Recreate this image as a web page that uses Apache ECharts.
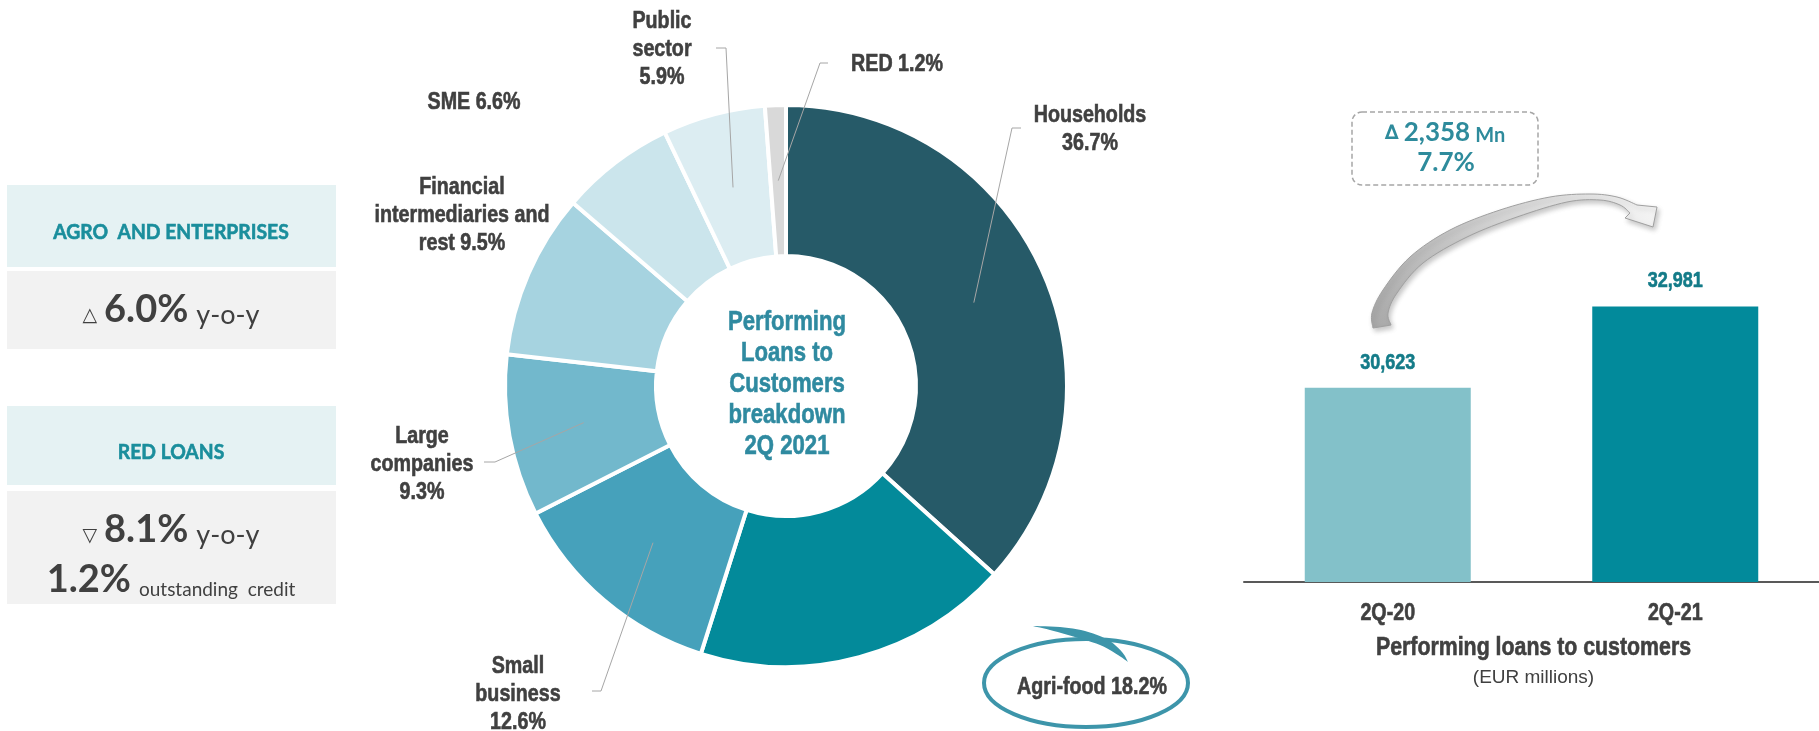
<!DOCTYPE html>
<html>
<head>
<meta charset="utf-8">
<title>Performing loans to customers</title>
<script src="https://cdn.jsdelivr.net/npm/echarts@6/dist/echarts.min.js"></script>
<style>
  html, body { margin: 0; padding: 0; background: #ffffff; }
  #chart { width: 1819px; height: 731px; }
</style>
</head>
<body>
<div id="chart"></div>
<script>
// ---- data ----
const sectors = ['Households', 'Agri-food', 'Small\nbusiness', 'Large\ncompanies',
  'Financial\nintermediaries and\nrest', 'SME', 'Public\nsector', 'RED'];
const sectorShares = [36.7, 18.2, 12.6, 9.3, 9.5, 6.6, 5.9, 1.2];
const periods = ['2Q-20', '2Q-21'];
const loans = [30623, 32981];
const agroGrowthYoY = 6.0;
const redLoansChangeYoY = 8.1;
const redShareOfCredit = 1.2;

// ---- styles & layout ----
const ARIAL = "'Liberation Sans',Arial,sans-serif";
const HUMANIST = "Lato,'Open Sans',sans-serif";
const NARROW_SCALE = 0.82;            // Arial Narrow is Arial squeezed to 82 %
const sectorColors = ['#265a68', '#038a9a', '#46a1bb', '#72b8cc', '#a6d3e0', '#cbe5ec', '#dcedf2', '#d9d9d9'];
const barColors = ['#83c1c9', '#028a9b'];
const valueOnNewLine = [true, false, true, true, false, false, true, false];
const pieCenter = [786, 386];
const pieRadius = [130, 281];
// centre of each sector label block
const labelAnchors = [[1090, 129], [1092, 687], [518, 694], [422, 464], [462, 215], [474, 102], [662, 49], [897, 64]];
// elbow + end of the leader line, or null when the label has none
const leaderTail = [
  [[1012, 128], [1021, 128]], null, [[601, 691], [592, 691]], [[495, 462], [484, 462]],
  null, null, [[726, 48], [716, 48]], [[820, 63], [828, 63]]
];

const TEAL_TXT = '#1a8e9c';
const DARK = '#404040';

// leader line start: middle of the ring at the sector's mid angle
const total = sectorShares.reduce((a, b) => a + b, 0);
const leaderStart = (() => {
  let cum = 0;
  const rMid = (pieRadius[0] + pieRadius[1]) / 2;
  return sectorShares.map(v => {
    const a = (cum + v / 2) / total * Math.PI * 2;
    cum += v;
    return [pieCenter[0] + rMid * Math.sin(a), pieCenter[1] - rMid * Math.cos(a)];
  });
})();

const fmt = n => n.toLocaleString('en-US');
const deltaMn = loans[1] - loans[0];
const deltaPct = (deltaMn / loans[0] * 100).toFixed(1);

// condensed bold text block centred on (x, y); a thin outline in the same
// colour restores the stem weight lost by the horizontal squeeze
function narrow(x, y, text, size, lineHeight, fill) {
  return {
    type: 'text', x, y, scaleX: NARROW_SCALE, silent: true, z: 100,
    style: { text, fontFamily: ARIAL, fontWeight: 'bold', fontSize: size, lineHeight,
      align: 'center', verticalAlign: 'middle', fill, stroke: fill, lineWidth: 0.6 }
  };
}

// rich-text token that keeps mixed font sizes on one baseline
function tok(size, big, extra) {
  return Object.assign({ fontSize: size, lineHeight: 2 * (0.2 * big + 0.3 * size), verticalAlign: 'bottom' }, extra);
}

// Catmull-Rom sampling for curved outlines
function smooth(pts, steps) {
  const out = [];
  for (let i = 0; i < pts.length - 1; i++) {
    const p0 = pts[Math.max(i - 1, 0)], p1 = pts[i], p2 = pts[i + 1], p3 = pts[Math.min(i + 2, pts.length - 1)];
    for (let s = 0; s < steps; s++) {
      const t = s / steps, t2 = t * t, t3 = t2 * t;
      const f = k => 0.5 * (2 * p1[k] + (-p0[k] + p2[k]) * t + (2 * p0[k] - 5 * p1[k] + 4 * p2[k] - p3[k]) * t2 + (-p0[k] + 3 * p1[k] - 3 * p2[k] + p3[k]) * t3);
      out.push([f(0), f(1)]);
    }
  }
  out.push(pts[pts.length - 1]);
  return out;
}
const arrowUpper = smooth([[1373, 328], [1372, 313], [1383, 290], [1410, 257], [1450, 230], [1500, 210], [1550, 197], [1590, 194], [1617, 197], [1637, 205]], 8);
const arrowLower = smooth([[1630, 213], [1620, 205], [1600, 200], [1567, 202], [1517, 217], [1467, 237], [1423, 263], [1397, 293], [1388, 313], [1391, 325]], 8);
const arrowHead = [[1657, 207], [1653, 227], [1625, 218]];
const swooshTop = smooth([[1033, 626], [1060, 627], [1085, 631], [1108, 640], [1122, 652], [1128, 662]], 6);
const swooshBottom = smooth([[1128, 662], [1118, 655], [1100, 645], [1075, 637], [1050, 630], [1033, 626]], 6);

const chart = echarts.init(document.getElementById('chart'), null, { renderer: 'canvas' });

chart.setOption({
  backgroundColor: '#ffffff',
  animation: false,
  grid: { left: 1244, width: 584, top: 64, bottom: 149 },
  xAxis: {
    type: 'category',
    data: periods,
    axisLine: { lineStyle: { color: '#595959', width: 2 } },
    axisTick: { show: false },
    axisLabel: { show: false }
  },
  yAxis: { type: 'value', min: 25000, max: 40000, show: false },
  series: [
    {
      type: 'pie',
      silent: true,
      center: pieCenter,
      radius: pieRadius,
      startAngle: 90,
      clockwise: true,
      label: { show: false },
      labelLine: { show: false },
      itemStyle: { borderColor: '#ffffff', borderWidth: 4 },
      data: sectorShares.map((v, i) => ({
        name: sectors[i].replace(/\n/g, ' '),
        value: v,
        itemStyle: { color: sectorColors[i] }
      }))
    },
    {
      type: 'bar',
      silent: true,
      barWidth: 166,
      data: loans.map((v, i) => ({ value: v, itemStyle: { color: barColors[i] } }))
    }
  ]
});

// ---- annotations placed through the chart's own coordinate system ----
const graphics = [];

function header(y, text) {
  return { type: 'text', x: 171, y, scaleX: 0.92, silent: true,
    style: { text, align: 'center', verticalAlign: 'middle', fontFamily: HUMANIST, fontSize: 21, fontWeight: 'bold',
      fill: TEAL_TXT, stroke: TEAL_TXT, lineWidth: 0.6 } };
}
const triStyle = { fontFamily: 'DejaVu Sans', fill: DARK, padding: [0, 7, 3, 0] };

// KPI panel: agro and enterprises
graphics.push(
  { type: 'rect', shape: { x: 7, y: 185, width: 329, height: 82 }, style: { fill: '#e5f2f3' } },
  header(232, 'AGRO  AND ENTERPRISES'),
  { type: 'rect', shape: { x: 7, y: 271, width: 329, height: 78 }, style: { fill: '#f2f2f2' } },
  { type: 'text', x: 171, y: 310, style: {
      text: '{t|\u25B3}{b|' + agroGrowthYoY.toFixed(1) + '%}{r|y-o-y}', align: 'center', verticalAlign: 'middle',
      fontFamily: HUMANIST, fill: DARK,
      rich: {
        t: tok(19, 38, triStyle),
        b: tok(38, 38, { fontFamily: HUMANIST, fontWeight: 'bold', fill: DARK, padding: [0, 8, 0, 0] }),
        r: tok(27, 38, { fontFamily: HUMANIST, fill: DARK })
      } } }
);
// KPI panel: red loans
graphics.push(
  { type: 'rect', shape: { x: 7, y: 406, width: 329, height: 79 }, style: { fill: '#e5f2f3' } },
  header(452, 'RED LOANS'),
  { type: 'rect', shape: { x: 7, y: 491, width: 329, height: 113 }, style: { fill: '#f2f2f2' } },
  { type: 'text', x: 171, y: 530, style: {
      text: '{t|\u25BD}{b|' + redLoansChangeYoY.toFixed(1) + '%}{r|y-o-y}', align: 'center', verticalAlign: 'middle',
      fontFamily: HUMANIST, fill: DARK,
      rich: {
        t: tok(19, 38, triStyle),
        b: tok(38, 38, { fontFamily: HUMANIST, fontWeight: 'bold', fill: DARK, padding: [0, 8, 0, 0] }),
        r: tok(27, 38, { fontFamily: HUMANIST, fill: DARK })
      } } },
  { type: 'text', x: 171, y: 580, style: {
      text: '{b|' + redShareOfCredit.toFixed(1) + '%}{r|outstanding  credit}', align: 'center', verticalAlign: 'middle',
      fontFamily: HUMANIST, fill: DARK,
      rich: {
        b: tok(38, 38, { fontFamily: HUMANIST, fontWeight: 'bold', fill: DARK, padding: [0, 8, 0, 0] }),
        r: tok(19, 38, { fontFamily: HUMANIST, fill: DARK })
      } } }
);

// donut: centre title, sector labels and leader lines
graphics.push(narrow(pieCenter[0] + 1, 385, 'Performing\nLoans to\nCustomers\nbreakdown\n2Q 2021', 27, 31, '#2f8aa0'));
sectors.forEach((name, i) => {
  const text = name + (valueOnNewLine[i] ? '\n' : ' ') + sectorShares[i].toFixed(1) + '%';
  graphics.push(narrow(labelAnchors[i][0], labelAnchors[i][1], text, 24, 28, DARK));
  if (leaderTail[i]) {
    graphics.push({ type: 'polyline', silent: true, z: 100, shape: { points: [leaderStart[i]].concat(leaderTail[i]) },
      style: { stroke: '#a6a6a6', lineWidth: 1, fill: null } });
  }
});
// highlight ring around the agri-food label
graphics.push(
  { type: 'ellipse', shape: { cx: 1086, cy: 683, rx: 102, ry: 44 },
    style: { fill: 'transparent', stroke: '#3d95aa', lineWidth: 4 } },
  { type: 'polygon', shape: { points: swooshTop.concat(swooshBottom) }, style: { fill: '#3d95aa' } }
);

// bars: value labels, category labels, axis title
loans.forEach((v, i) => {
  const top = chart.convertToPixel({ seriesIndex: 1 }, [i, v]);
  graphics.push(narrow(top[0], top[1] - 25, fmt(v), 22, 26, '#137b88'));
});
const base = periods.map((c, i) => chart.convertToPixel({ gridIndex: 0 }, [i, 25000]));
periods.forEach((c, i) => graphics.push(narrow(base[i][0], base[i][1] + 31, c, 24, 26, DARK)));
const midX = (base[0][0] + base[1][0]) / 2 + 2;
graphics.push(narrow(midX, base[0][1] + 66, 'Performing loans to customers', 26, 28, DARK));
graphics.push({ type: 'text', x: midX, y: base[0][1] + 96, silent: true,
  style: { text: '(EUR millions)', fontFamily: ARIAL, fontSize: 19, align: 'center', verticalAlign: 'middle', fill: DARK } });

// year-on-year change callout
graphics.push(
  { type: 'rect', shape: { x: 1352, y: 112, width: 186, height: 73, r: 10 },
    style: { fill: 'transparent', stroke: '#a6a6a6', lineWidth: 1.5, lineDash: [5, 3] } },
  { type: 'text', x: 1445, y: 133, style: {
      text: '{d|\u2206}{n|' + fmt(deltaMn) + '}{u|Mn}', align: 'center', verticalAlign: 'middle',
      fontFamily: HUMANIST, fill: '#2e8b9c',
      rich: {
        d: tok(20, 26, { fontFamily: 'DejaVu Sans', fontWeight: 'bold', fill: '#2e8b9c', padding: [0, 5, 2, 0] }),
        n: tok(26, 26, { fontFamily: HUMANIST, fontWeight: 'bold', fill: '#2e8b9c', padding: [0, 5, 0, 0] }),
        u: tok(20, 26, { fontFamily: HUMANIST, fontWeight: 'bold', fill: '#2e8b9c' })
      } } },
  { type: 'text', x: 1446, y: 163, style: { text: deltaPct + '%', align: 'center', verticalAlign: 'middle', fontFamily: HUMANIST, fontSize: 26, fontWeight: 'bold', fill: '#2e8b9c' } },
  { type: 'polygon', z: 10,
    shape: { points: arrowUpper.concat(arrowHead, arrowLower) },
    style: {
      fill: { type: 'linear', x: 0, y: 1, x2: 1, y2: 0, colorStops: [
        { offset: 0, color: '#a8a8a8' }, { offset: 0.5, color: '#d2d2d2' }, { offset: 1, color: '#f6f6f6' }] },
      stroke: '#a0a0a0', lineWidth: 1,
      shadowBlur: 5, shadowColor: 'rgba(0,0,0,0.22)', shadowOffsetX: 2, shadowOffsetY: 3
    } }
);

chart.setOption({ graphic: graphics });
</script>
</body>
</html>
